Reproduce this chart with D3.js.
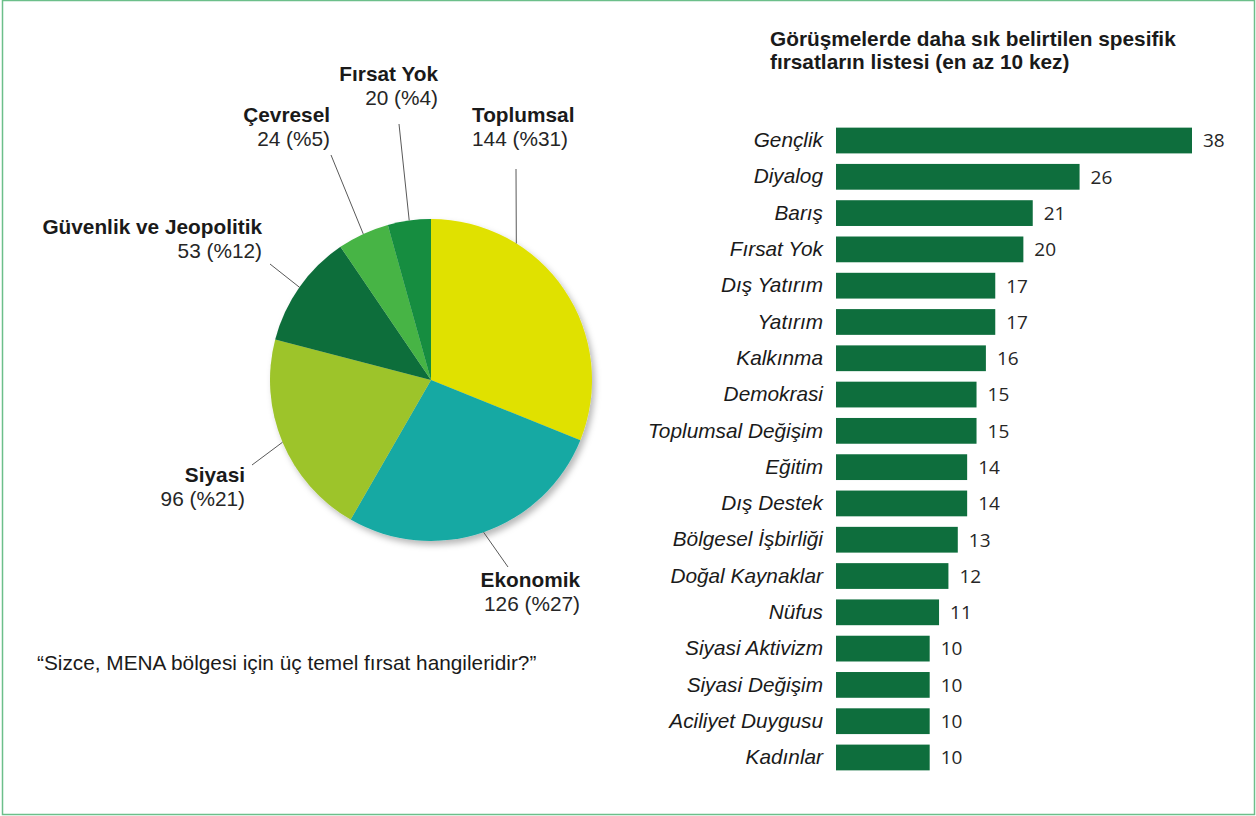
<!DOCTYPE html>
<html>
<head>
<meta charset="utf-8">
<script src="https://cdn.jsdelivr.net/npm/d3@7"></script>
<style>
  html, body { margin: 0; padding: 0; background: #fff; }
  svg { display: block; }
</style>
</head>
<body>
<svg id="chart" width="1256" height="816"></svg>
<script>
// ---------- DATA ----------
const pieCategories = ["Toplumsal", "Ekonomik", "Siyasi", "Güvenlik ve Jeopolitik", "Çevresel", "Fırsat Yok"];
const pieValues     = [144, 126, 96, 53, 24, 20];
const piePercents   = ["%31", "%27", "%21", "%12", "%5", "%4"];

const barCategories = ["Gençlik", "Diyalog", "Barış", "Fırsat Yok", "Dış Yatırım", "Yatırım", "Kalkınma",
  "Demokrasi", "Toplumsal Değişim", "Eğitim", "Dış Destek", "Bölgesel İşbirliği", "Doğal Kaynaklar",
  "Nüfus", "Siyasi Aktivizm", "Siyasi Değişim", "Aciliyet Duygusu", "Kadınlar"];
const barValues = [38, 26, 21, 20, 17, 17, 16, 15, 15, 14, 14, 13, 12, 11, 10, 10, 10, 10];

const barTitleLines = ["Görüşmelerde daha sık belirtilen spesifik", "fırsatların listesi (en az 10 kez)"];
const questionText = "“Sizce, MENA bölgesi için üç temel fırsat hangileridir?”";

// ---------- STYLE / LAYOUT ----------
const pieColors = ["#e0e100", "#19a9a3", "#9dc42b", "#0f6e3b", "#46b444", "#128d40"];
const barColor = "#0e6e3d";
const FONT = "'Liberation Sans', Arial, sans-serif";
const FS = 20.8;
const svg = d3.select("#chart");

// border
svg.append("rect").attr("x", 2.5).attr("y", 0.5).attr("width", 1252).attr("height", 814)
  .attr("fill", "none").attr("stroke", "#6cbf8a").attr("stroke-width", 1.5);

// shadow filter
const defs = svg.append("defs");
const f = defs.append("filter").attr("id", "shadow").attr("x", "-10%").attr("y", "-10%").attr("width", "130%").attr("height", "130%");
f.append("feDropShadow").attr("dx", 3).attr("dy", 4).attr("stdDeviation", 3)
  .attr("flood-color", "#000").attr("flood-opacity", 0.28);

// ---------- PIE ----------
const cx = 431, cy = 380, R = 161;
const pieData = pieCategories.map((c, i) => ({ name: c, value: pieValues[i], pct: piePercents[i], color: pieColors[i] }));
const pie = d3.pie().value(d => d.value).sort(null);
const arcs = pie(pieData);
const arc = d3.arc().innerRadius(0).outerRadius(R);

const pg = svg.append("g").attr("transform", `translate(${cx},${cy})`);
pg.append("g").attr("filter", "url(#shadow)")
  .selectAll("path").data(arcs).join("path")
  .attr("d", arc).attr("fill", d => d.data.color);

// label layout: text anchor position, anchor, leader start, angle override on edge (deg)
const labelLayout = {
  "Toplumsal":              { x: 472, y: 122, anchor: "start", lx: 516, ly: 169, angle: 32 },
  "Ekonomik":               { x: 580, y: 587, anchor: "end",   lx: 508, ly: 567, angle: null },
  "Siyasi":                 { x: 245, y: 482, anchor: "end",   lx: 252, ly: 465, angle: null },
  "Güvenlik ve Jeopolitik": { x: 262, y: 234, anchor: "end",   lx: 270, ly: 264, angle: null },
  "Çevresel":               { x: 330, y: 122, anchor: "end",   lx: 331, ly: 155, angle: null },
  "Fırsat Yok":             { x: 438, y: 81,  anchor: "end",   lx: 399, ly: 124, angle: null }
};

const lg = svg.append("g");
arcs.forEach(a => {
  const L = labelLayout[a.data.name];
  const ang = L.angle !== null ? L.angle * Math.PI / 180 : (a.startAngle + a.endAngle) / 2;
  const ex = cx + R * Math.sin(ang), ey = cy - R * Math.cos(ang);
  lg.append("line").attr("x1", L.lx).attr("y1", L.ly).attr("x2", ex).attr("y2", ey)
    .attr("stroke", "#595959").attr("stroke-width", 1);
  const t = lg.append("text").attr("x", L.x).attr("y", L.y).attr("text-anchor", L.anchor)
    .attr("font-family", FONT).attr("font-size", FS).attr("fill", "#1a1a1a");
  t.append("tspan").attr("x", L.x).attr("font-weight", "bold").text(a.data.name);
  t.append("tspan").attr("x", L.x).attr("dy", 24).attr("fill", "#262626").text(`${a.data.value} (${a.data.pct})`);
});

// question
svg.append("text").attr("x", 37).attr("y", 670)
  .attr("font-family", FONT).attr("font-size", FS).attr("fill", "#1a1a1a")
  .text(questionText);

// ---------- BAR CHART ----------
const title = svg.append("text").attr("x", 770).attr("y", 46)
  .attr("font-family", FONT).attr("font-size", FS)
  .attr("font-weight", "bold").attr("fill", "#1a1a1a");
barTitleLines.forEach((l, i) => title.append("tspan").attr("x", 770).attr("dy", i ? 23 : 0).text(l));

const x = d3.scaleLinear().domain([0, 38]).range([836, 1192]);
const y = d3.scaleBand().domain(barCategories).range([124, 774]).paddingInner(0.29).paddingOuter(0.1);

const bg = svg.append("g");
bg.selectAll("rect").data(barCategories).join("rect")
  .attr("x", x(0)).attr("y", d => y(d))
  .attr("width", (d, i) => x(barValues[i]) - x(0)).attr("height", y.bandwidth())
  .attr("fill", barColor);

// category axis (labels only)
const yAxis = d3.axisLeft(y).tickSize(0).tickPadding(0);
const ag = svg.append("g").attr("transform", `translate(823,0)`).call(yAxis);
ag.select(".domain").remove();
ag.selectAll("text")
  .attr("font-family", FONT).attr("font-size", FS)
  .attr("font-style", "italic").attr("fill", "#1a1a1a").attr("dy", "0.32em");

// value labels
bg.selectAll("text").data(barCategories).join("text")
  .attr("x", (d, i) => x(barValues[i]) + 11)
  .attr("y", d => y(d) + y.bandwidth() / 2)
  .attr("dy", "0.36em")
  .attr("font-family", "'Open Sans', 'Noto Sans', sans-serif").attr("font-size", 19)
  .attr("fill", "#262626")
  .text((d, i) => barValues[i]);
</script>
</body>
</html>
